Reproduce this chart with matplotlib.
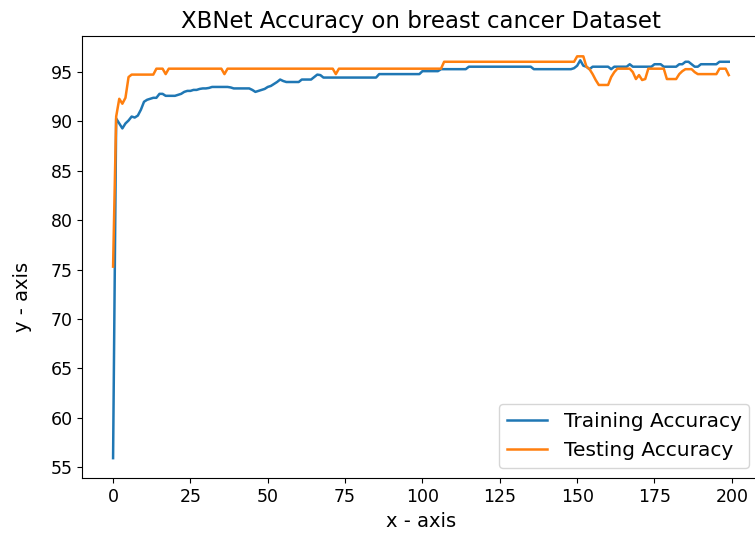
import numpy as np
import matplotlib
matplotlib.use("Agg")
import matplotlib.pyplot as plt

epochs = np.arange(200)

# training accuracy per epoch
train_acc = [
    55.9, 90.3, 89.8, 89.3, 89.8, 90.1, 90.5, 90.4, 90.6, 91.2,
    92.0, 92.2, 92.3, 92.4, 92.4, 92.8, 92.8, 92.6, 92.6, 92.6,
    92.6, 92.7, 92.8, 93.0, 93.1, 93.1, 93.2, 93.2, 93.3, 93.35,
    93.35, 93.4, 93.5, 93.5, 93.5, 93.5, 93.5, 93.5, 93.45, 93.35,
    93.35, 93.35, 93.35, 93.35, 93.35, 93.2, 93.0, 93.1, 93.2, 93.3,
    93.5, 93.6, 93.8, 94.0, 94.25, 94.1, 94.0, 94.0, 94.0, 94.0,
    94.0, 94.25, 94.25, 94.25, 94.25, 94.5, 94.75, 94.7, 94.45, 94.45,
    94.45, 94.45, 94.45, 94.45, 94.45, 94.45, 94.45, 94.45, 94.45, 94.45,
    94.45, 94.45, 94.45, 94.45, 94.45, 94.45, 94.8, 94.8, 94.8, 94.8,
    94.8, 94.8, 94.8, 94.8, 94.8, 94.8, 94.8, 94.8, 94.8, 94.8,
    95.1, 95.1, 95.1, 95.1, 95.1, 95.1, 95.3, 95.3, 95.3, 95.3,
    95.3, 95.3, 95.3, 95.3, 95.3, 95.55, 95.55, 95.55, 95.55, 95.55,
    95.55, 95.55, 95.55, 95.55, 95.55, 95.55, 95.55, 95.55, 95.55, 95.55,
    95.55, 95.55, 95.55, 95.55, 95.55, 95.55, 95.3, 95.3, 95.3, 95.3,
    95.3, 95.3, 95.3, 95.3, 95.3, 95.3, 95.3, 95.3, 95.3, 95.4,
    95.65, 96.2, 95.65, 95.55, 95.3, 95.55, 95.55, 95.55, 95.55, 95.55,
    95.55, 95.3, 95.55, 95.55, 95.55, 95.55, 95.55, 95.8, 95.55, 95.55,
    95.55, 95.55, 95.55, 95.55, 95.55, 95.8, 95.8, 95.8, 95.55, 95.55,
    95.55, 95.55, 95.55, 95.8, 95.8, 96.05, 96.05, 95.8, 95.55, 95.55,
    95.8, 95.8, 95.8, 95.8, 95.8, 95.8, 96.05, 96.05, 96.05, 96.05,
]

# testing accuracy per epoch
test_acc = [
    75.3, 90.5, 92.3, 91.8, 92.4, 94.5, 94.75, 94.75, 94.75, 94.75,
    94.75, 94.75, 94.75, 94.75, 95.35, 95.35, 95.35, 94.8, 95.35, 95.35,
    95.35, 95.35, 95.35, 95.35, 95.35, 95.35, 95.35, 95.35, 95.35, 95.35,
    95.35, 95.35, 95.35, 95.35, 95.35, 95.35, 94.8, 95.35, 95.35, 95.35,
    95.35, 95.35, 95.35, 95.35, 95.35, 95.35, 95.35, 95.35, 95.35, 95.35,
    95.35, 95.35, 95.35, 95.35, 95.35, 95.35, 95.35, 95.35, 95.35, 95.35,
    95.35, 95.35, 95.35, 95.35, 95.35, 95.35, 95.35, 95.35, 95.35, 95.35,
    95.35, 95.35, 94.8, 95.35, 95.35, 95.35, 95.35, 95.35, 95.35, 95.35,
    95.35, 95.35, 95.35, 95.35, 95.35, 95.35, 95.35, 95.35, 95.35, 95.35,
    95.35, 95.35, 95.35, 95.35, 95.35, 95.35, 95.35, 95.35, 95.35, 95.35,
    95.35, 95.35, 95.35, 95.35, 95.35, 95.35, 95.35, 96.05, 96.05, 96.05,
    96.05, 96.05, 96.05, 96.05, 96.05, 96.05, 96.05, 96.05, 96.05, 96.05,
    96.05, 96.05, 96.05, 96.05, 96.05, 96.05, 96.05, 96.05, 96.05, 96.05,
    96.05, 96.05, 96.05, 96.05, 96.05, 96.05, 96.05, 96.05, 96.05, 96.05,
    96.05, 96.05, 96.05, 96.05, 96.05, 96.05, 96.05, 96.05, 96.05, 96.05,
    96.6, 96.6, 96.6, 95.55, 95.3, 94.8, 94.2, 93.7, 93.7, 93.7,
    93.7, 94.5, 95.0, 95.35, 95.35, 95.35, 95.35, 95.35, 95.0, 94.3,
    94.7, 94.2, 94.3, 95.35, 95.35, 95.35, 95.35, 95.35, 95.35, 94.3,
    94.3, 94.3, 94.3, 94.8, 95.1, 95.3, 95.3, 95.3, 95.0, 94.8,
    94.8, 94.8, 94.8, 94.8, 94.8, 94.8, 95.35, 95.35, 95.35, 94.7,
]

plt.rcParams['font.size'] = 12.5

fig = plt.figure(figsize=(7.55, 5.41), dpi=100)
ax = fig.add_axes([0.109, 0.116, 0.897, 0.817])
ax.plot(epochs, train_acc, lw=1.8, label="Training Accuracy")
ax.plot(epochs, test_acc, lw=1.8, label="Testing Accuracy")
ax.set_title("XBNet Accuracy on breast cancer Dataset", fontsize=16.5)
ax.set_xlabel("x - axis", fontsize=14)
ax.set_ylabel("y - axis", fontsize=14)
ax.yaxis.set_label_coords(-0.075, 0.41)
ax.legend(loc="lower right", fontsize=14.5)
fig.savefig("out.png", dpi=100)
